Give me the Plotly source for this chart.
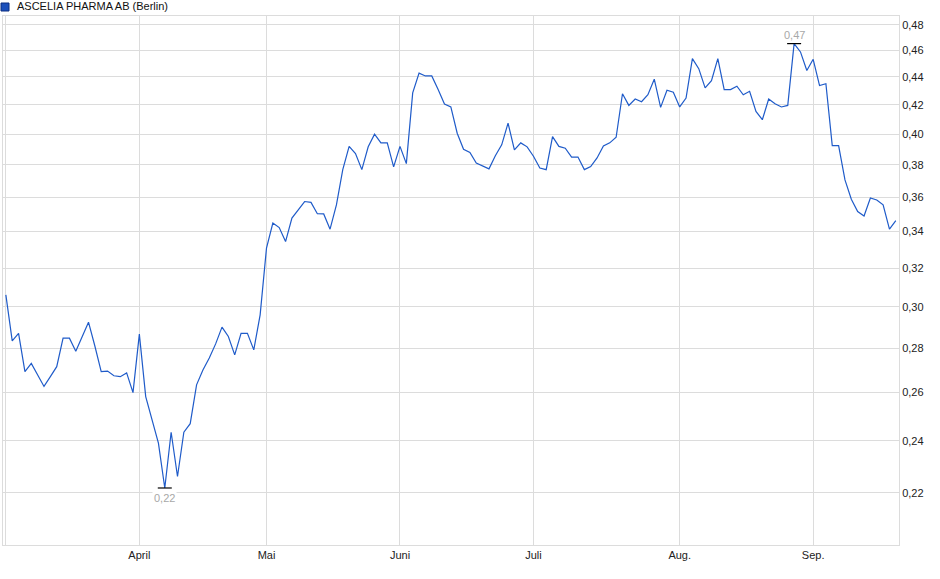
import math
import plotly.graph_objects as go

# daily closing prices (EUR), one value per trading day, early March to mid September
prices = [
    0.306, 0.2834, 0.287, 0.2693, 0.273, 0.268, 0.2627, 0.267, 0.2715, 0.2847,
    0.2847, 0.2786, 0.2855, 0.2924, 0.281, 0.2693, 0.2695, 0.2674, 0.267, 0.2687,
    0.26, 0.2866, 0.2583, 0.2484, 0.239, 0.2218, 0.2434, 0.2261, 0.2434, 0.2469,
    0.2634, 0.27, 0.2754, 0.282, 0.290, 0.2855, 0.2769, 0.287, 0.287, 0.2792,
    0.296, 0.3308, 0.3449, 0.3423, 0.3344, 0.3478, 0.3526, 0.3575, 0.357, 0.3503,
    0.3502, 0.3414, 0.3555, 0.377, 0.3919, 0.3872, 0.377, 0.3916, 0.3999, 0.3942,
    0.3942, 0.3787, 0.3919, 0.3808, 0.4284, 0.4428, 0.4407, 0.4407, 0.4308, 0.4206,
    0.4185, 0.4006, 0.39, 0.388, 0.3812, 0.3793, 0.3775, 0.3858, 0.3929, 0.4074,
    0.3896, 0.3942, 0.3916, 0.3855, 0.378, 0.377, 0.3983, 0.3919, 0.3907, 0.385,
    0.385, 0.377, 0.3789, 0.3844, 0.3922, 0.3942, 0.3979, 0.4278, 0.4196, 0.4241,
    0.4222, 0.4271, 0.4383, 0.4182, 0.4303, 0.4289, 0.4185, 0.4248, 0.4536, 0.4461,
    0.432, 0.4373, 0.4536, 0.4308, 0.4308, 0.4332, 0.4271, 0.4296, 0.4154, 0.4097,
    0.4241, 0.4208, 0.4185, 0.4196, 0.4651, 0.4587, 0.4447, 0.4531, 0.4337, 0.435,
    0.3924, 0.3924, 0.3706, 0.3589, 0.3516, 0.349, 0.3596, 0.3584, 0.3555, 0.3414,
    0.3463,
]
days = list(range(len(prices)))

# first trading day of each month (index into prices)
month_idx = [0, 21, 41, 62, 83, 106, 127]
month_labels = ["", "April", "Mai", "Juni", "Juli", "Aug.", "Sep."]

y_ticks = [0.22, 0.24, 0.26, 0.28, 0.30, 0.32, 0.34, 0.36, 0.38, 0.40, 0.42, 0.44, 0.46, 0.48]

LINE = "#1f5bc9"
GRID = "#dcdcdc"
FONT = "Liberation Sans, Arial, sans-serif"

i_min = prices.index(min(prices))
i_max = prices.index(max(prices))

fig = go.Figure()
fig.add_trace(go.Scatter(
    x=days, y=prices, mode="lines",
    line=dict(color=LINE, width=1.2),
    hoverinfo="skip", showlegend=False,
))
# small black bars marking the low and the high
fig.add_trace(go.Scatter(
    x=[i_min, i_max], y=[prices[i_min], prices[i_max]], mode="markers",
    marker=dict(symbol="line-ew", size=10, line=dict(color="black", width=1.2)),
    hoverinfo="skip", showlegend=False,
))

fig.add_annotation(x=i_min, y=math.log10(prices[i_min]), text="0,22", showarrow=False,
                   yshift=-10, font=dict(color="#a8a8a8", size=11, family=FONT),
                   bgcolor="white")
fig.add_annotation(x=i_max, y=math.log10(prices[i_max]), text="0,47", showarrow=False,
                   yshift=9, font=dict(color="#a8a8a8", size=11, family=FONT),
                   bgcolor="white")

# title with its coloured square
fig.add_annotation(xref="paper", yref="paper", x=0.0134, y=1.0, yshift=10,
                   xanchor="left", yanchor="middle", showarrow=False,
                   text="ASCELIA PHARMA AB (Berlin)",
                   font=dict(color="#111111", size=11, family=FONT))
fig.add_shape(type="rect", xref="paper", yref="paper",
              xsizemode="pixel", ysizemode="pixel", xanchor=0, yanchor=1,
              x0=-2, x1=6, y0=5, y1=13,
              fillcolor="#1c50bb", line=dict(color="#0d2f80", width=1))

fig.update_layout(
    width=940, height=579,
    margin=dict(l=3, r=41, t=16, b=34),
    paper_bgcolor="white", plot_bgcolor="white",
    font=dict(family=FONT, size=11, color="#222222"),
    separators=",.",
    xaxis=dict(
        range=[-0.45, 140.5],
        tickvals=month_idx, ticktext=month_labels,
        showgrid=True, gridcolor=GRID, gridwidth=1,
        showline=True, linecolor=GRID, linewidth=1, mirror=True,
        ticks="", zeroline=False, fixedrange=True,
    ),
    yaxis=dict(
        type="log", side="right",
        range=[math.log10(0.2017), math.log10(0.487)],
        tickvals=y_ticks, tickformat=".2f",
        showgrid=True, gridcolor=GRID, gridwidth=1,
        showline=True, linecolor=GRID, linewidth=1, mirror=True,
        ticks="", zeroline=False, fixedrange=True,
    ),
)

# the page body has a default 8px margin; drop it so the chart sits at the corner
fig.write_html("out.html", config={"displayModeBar": False},
               post_script="document.body.style.margin='0px';")
